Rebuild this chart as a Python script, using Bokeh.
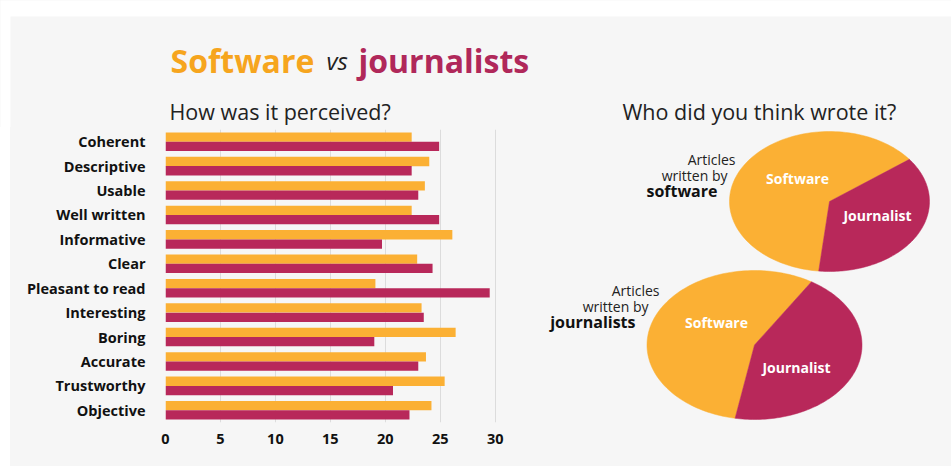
import numpy as np
from bokeh.plotting import figure
from bokeh.models import FactorRange, Range1d, ColumnDataSource, FixedTicker, Spacer
from bokeh.transform import dodge
from bokeh.layouts import row, column
from bokeh.core.properties import value
from bokeh.embed import file_html
from bokeh.resources import INLINE

# ---------------- data ----------------
categories = ["Coherent", "Descriptive", "Usable", "Well written", "Informative", "Clear",
              "Pleasant to read", "Interesting", "Boring", "Accurate", "Trustworthy", "Objective"]
software_scores = [22.4, 24.0, 23.6, 22.4, 26.1, 22.9, 19.1, 23.3, 26.4, 23.7, 25.4, 24.2]
journalist_scores = [24.9, 22.4, 23.0, 24.9, 19.7, 24.3, 29.5, 23.5, 19.0, 23.0, 20.7, 22.2]
x_ticks = [0, 5, 10, 15, 20, 25, 30]

pie_groups = ["software", "journalists"]
guessed_software_share = [63, 56]      # % of readers guessing "Software"
guessed_journalist_share = [37, 44]    # % of readers guessing "Journalist"
slice_labels = ["Software", "Journalist"]

ORANGE = "#FBB034"
CRIMSON = "#B8285A"
TITLE_ORANGE = "#F6A51E"
TITLE_CRIMSON = "#B0285A"
PANEL = "#F6F6F6"
FONT = "Open Sans"
W, H = 951, 466
TOP_H = 127                      # height of the heading strip
MARGIN_L, MARGIN_T = 10, 16      # white margin round the grey panel
FL, FT, FB = 165, 129, 422       # bar frame left / top / bottom in page pixels
LEFT_W = 545

# ---------------- heading strip ----------------
t = figure(width=W, height=TOP_H, x_range=Range1d(0, W), y_range=Range1d(TOP_H, 0),
           output_backend="svg", toolbar_location=None, min_border=0)
t.axis.visible = False
t.grid.visible = False
t.outline_line_color = None
t.background_fill_color = "white"
t.border_fill_color = "white"
t.quad(left=[MARGIN_L], right=[W], top=[MARGIN_T], bottom=[TOP_H + 1], fill_color=PANEL, line_color=None)
t.text(x=[170, 358], y=[60, 60], text=["Software", "journalists"], text_font=value(FONT),
       text_font_size="32px", text_font_style="bold", text_color=[TITLE_ORANGE, TITLE_CRIMSON],
       text_baseline="alphabetic")
t.text(x=[326], y=[60], text=["vs"], text_font=value(FONT), text_font_size="24px",
       text_font_style="italic", text_color="#222222", text_baseline="alphabetic")
t.text(x=[169, 622], y=[111, 111], text=["How was it perceived?", "Who did you think wrote it?"],
       text_font=value(FONT), text_font_size="21.5px", text_color="#222222",
       text_baseline="alphabetic")

# ---------------- bar chart ----------------
src = ColumnDataSource(dict(cat=categories, sw=software_scores, jo=journalist_scores))
p = figure(width=LEFT_W - MARGIN_L, height=H - TOP_H, y_range=FactorRange(factors=categories[::-1]),
           x_range=Range1d(0, 30.3), output_backend="svg", toolbar_location=None,
           min_border_left=FL - MARGIN_L, min_border_right=LEFT_W - FL - 333,
           min_border_top=FT - TOP_H, min_border_bottom=H - FB)
p.hbar(y=dodge("cat", 0.19, range=p.y_range), right="sw", left=0, height=0.38,
       fill_color=ORANGE, line_color=None, source=src)
p.hbar(y=dodge("cat", -0.19, range=p.y_range), right="jo", left=0, height=0.38,
       fill_color=CRIMSON, line_color=None, source=src)

p.outline_line_color = None
p.background_fill_color = PANEL
p.border_fill_color = PANEL
p.ygrid.visible = False
p.xgrid.ticker = FixedTicker(ticks=x_ticks)
p.xgrid.grid_line_color = "#DCDCDC"
p.xaxis.ticker = FixedTicker(ticks=x_ticks)
for ax in (p.xaxis[0], p.yaxis[0]):
    ax.axis_line_color = None
    ax.major_tick_line_color = None
    ax.minor_tick_line_color = None
    ax.major_label_text_font = FONT
    ax.major_label_text_font_style = "bold"
    ax.major_label_text_color = "#111111"
p.xaxis.major_label_text_font_size = "14.5px"
p.xaxis.major_label_standoff = 5
p.yaxis.major_label_text_font_size = "14.5px"
p.yaxis.major_label_standoff = 14

# ---------------- pies ----------------
q = figure(width=W - LEFT_W, height=H - TOP_H, x_range=Range1d(LEFT_W, W), y_range=Range1d(FB, FT),
           output_backend="svg", toolbar_location=None, min_border_left=0, min_border_right=0,
           min_border_top=FT - TOP_H, min_border_bottom=H - FB)
q.axis.visible = False
q.grid.visible = False
q.outline_line_color = None
q.border_fill_color = PANEL
q.background_fill_color = PANEL

# ellipse geometry (centre x, centre y, radius x, radius y, start angle of Software slice)
geoms = [(829, 201, 100, 70, 37), (754, 344.5, 107.5, 74.5, 58)]
xs, ys, cols = [], [], []
for (cx, cy, rx, ry, a0), s_sw, s_jo in zip(geoms, guessed_software_share, guessed_journalist_share):
    start = np.radians(a0)
    for share, col in ((s_sw, ORANGE), (s_jo, CRIMSON)):
        end = start + 2 * np.pi * share / (s_sw + s_jo)
        tt = np.linspace(start, end, 120)
        xs.append([cx] + list(cx + rx * np.cos(tt)))
        ys.append([cy] + list(cy - ry * np.sin(tt)))
        cols.append(col)
        start = end
q.patches(xs=xs, ys=ys, fill_color=cols, line_color=cols, line_width=0.5)

q.text(x=[797, 877, 716, 796], y=[178, 215, 322, 367],
       text=[slice_labels[0], slice_labels[1], slice_labels[0], slice_labels[1]],
       text_font=value(FONT), text_font_style="bold", text_font_size="14px",
       text_color="white", text_align="center", text_baseline="middle")

q.text(x=[735, 727, 659, 648], y=[159, 175, 290, 306],
       text=["Articles", "written by", "Articles", "written by"], text_font=value(FONT),
       text_font_size="14px", text_color="#222222", text_align="right", text_baseline="middle")
q.text(x=[717, 635], y=[190, 321], text=pie_groups, text_font=value(FONT),
       text_font_style="bold", text_font_size="16px", text_color="#111111",
       text_align="right", text_baseline="middle")

margin = Spacer(width=MARGIN_L, height=H - TOP_H, styles={"background-color": "white"})
body = row(margin, p, q, styles={"background-color": PANEL})
layout = column(t, body, styles={"background-color": PANEL})
open("out.html", "w").write(file_html(layout, INLINE))
